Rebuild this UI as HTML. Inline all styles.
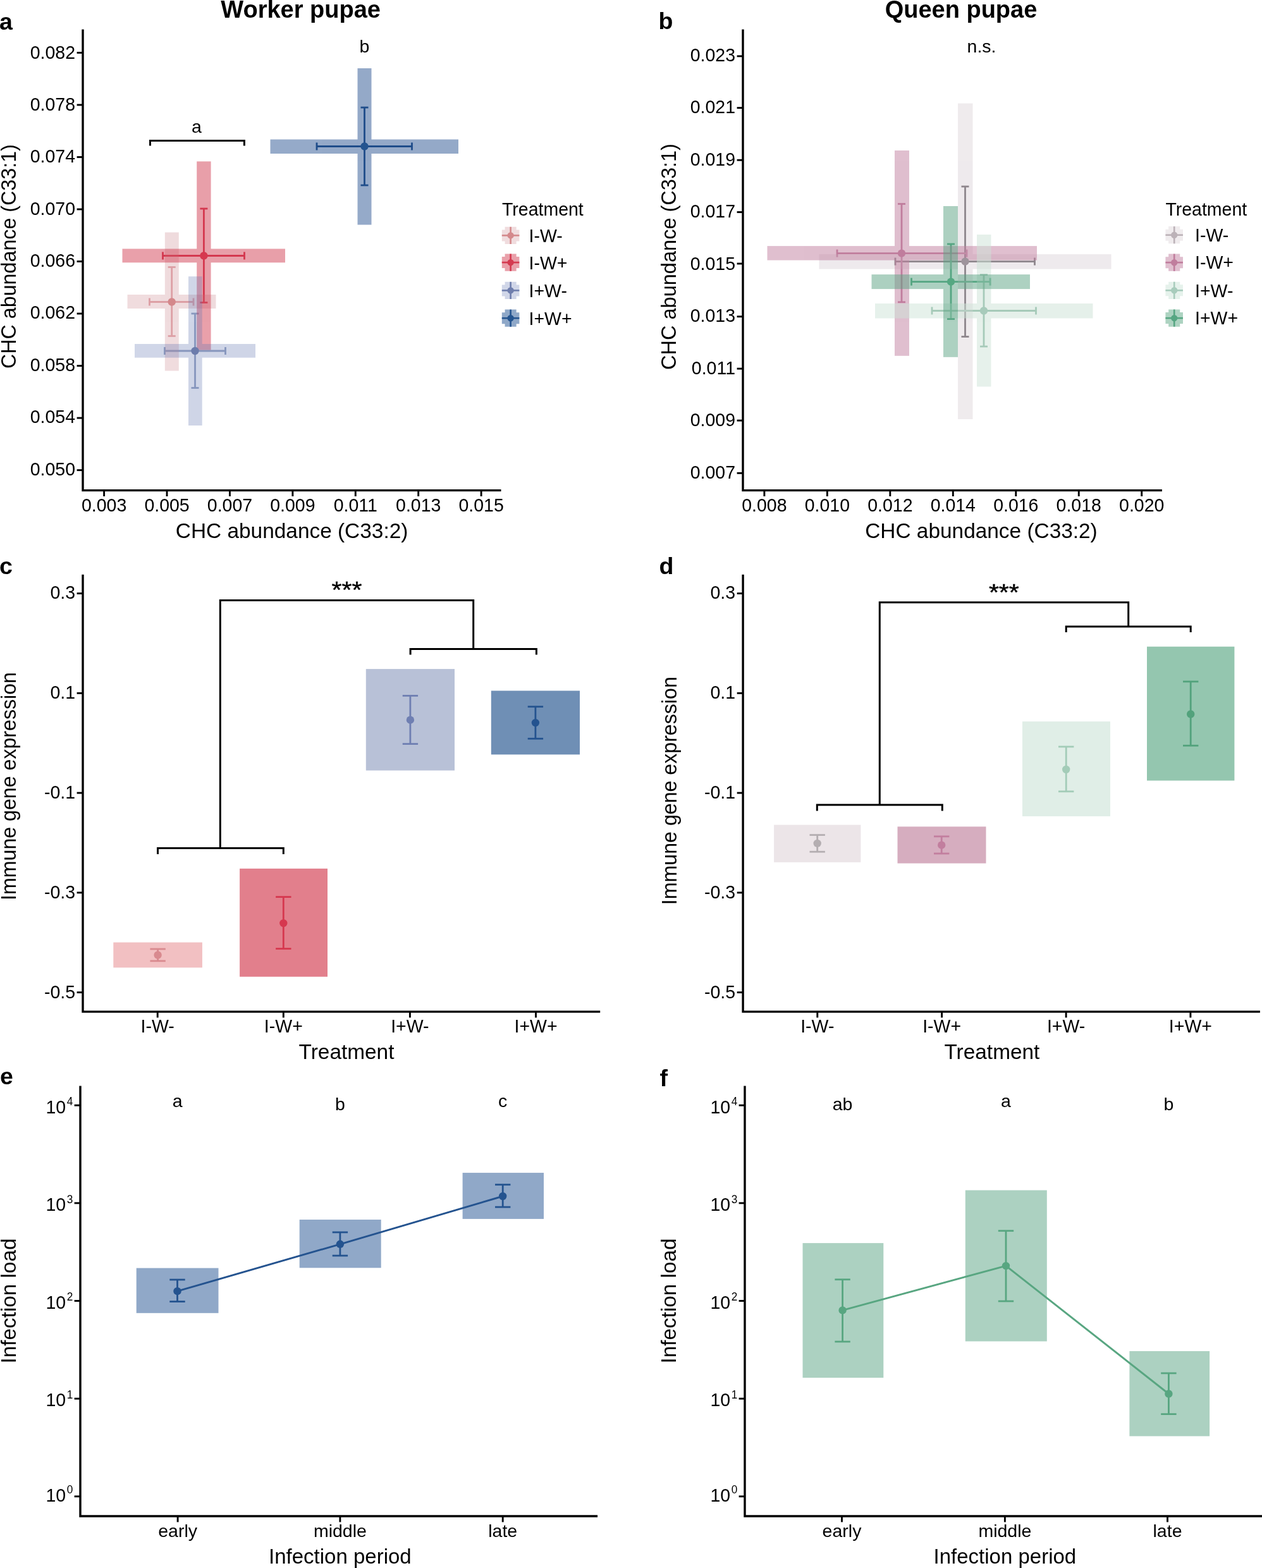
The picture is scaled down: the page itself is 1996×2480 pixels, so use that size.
<!DOCTYPE html>
<html><head><meta charset="utf-8"><title>Figure</title>
<style>
html,body{margin:0;padding:0;background:#fff;}
body{width:1996px;height:2480px;overflow:hidden;}
svg{display:block;font-family:"Liberation Sans", Arial, Helvetica, sans-serif;}
</style></head><body>
<svg width="1996" height="2480" viewBox="0 0 1996 2480">
<rect width="1996" height="2480" fill="#fff"/>
<text transform="translate(-1.10 46.50)" font-size="37.5" font-weight="bold">a</text>
<text transform="translate(475.60 28.20)" font-size="38" text-anchor="middle" font-weight="bold">Worker pupae</text>
<path d="M131.00 46.50 V775.60 H792.50" fill="none" stroke="#000" stroke-width="3.4" stroke-linejoin="miter" stroke-linecap="butt"/>
<line x1="121.60" y1="743.60" x2="131.00" y2="743.60" stroke="#000" stroke-width="2.9" stroke-linecap="butt"/>
<text transform="translate(119.00 751.50) scale(1.0 1.04)" font-size="28.5" text-anchor="end">0.050</text>
<line x1="121.60" y1="661.08" x2="131.00" y2="661.08" stroke="#000" stroke-width="2.9" stroke-linecap="butt"/>
<text transform="translate(119.00 669.16) scale(1.0 1.04)" font-size="28.5" text-anchor="end">0.054</text>
<line x1="121.60" y1="578.55" x2="131.00" y2="578.55" stroke="#000" stroke-width="2.9" stroke-linecap="butt"/>
<text transform="translate(119.00 586.83) scale(1.0 1.04)" font-size="28.5" text-anchor="end">0.058</text>
<line x1="121.60" y1="496.02" x2="131.00" y2="496.02" stroke="#000" stroke-width="2.9" stroke-linecap="butt"/>
<text transform="translate(119.00 504.49) scale(1.0 1.04)" font-size="28.5" text-anchor="end">0.062</text>
<line x1="121.60" y1="413.50" x2="131.00" y2="413.50" stroke="#000" stroke-width="2.9" stroke-linecap="butt"/>
<text transform="translate(119.00 422.15) scale(1.0 1.04)" font-size="28.5" text-anchor="end">0.066</text>
<line x1="121.60" y1="330.98" x2="131.00" y2="330.98" stroke="#000" stroke-width="2.9" stroke-linecap="butt"/>
<text transform="translate(119.00 339.81) scale(1.0 1.04)" font-size="28.5" text-anchor="end">0.070</text>
<line x1="121.60" y1="248.45" x2="131.00" y2="248.45" stroke="#000" stroke-width="2.9" stroke-linecap="butt"/>
<text transform="translate(119.00 257.47) scale(1.0 1.04)" font-size="28.5" text-anchor="end">0.074</text>
<line x1="121.60" y1="165.92" x2="131.00" y2="165.92" stroke="#000" stroke-width="2.9" stroke-linecap="butt"/>
<text transform="translate(119.00 175.14) scale(1.0 1.04)" font-size="28.5" text-anchor="end">0.078</text>
<line x1="121.60" y1="83.40" x2="131.00" y2="83.40" stroke="#000" stroke-width="2.9" stroke-linecap="butt"/>
<text transform="translate(119.00 92.80) scale(1.0 1.04)" font-size="28.5" text-anchor="end">0.082</text>
<line x1="164.60" y1="775.60" x2="164.60" y2="785.00" stroke="#000" stroke-width="2.9" stroke-linecap="butt"/>
<text transform="translate(164.60 809.00) scale(1.0 1.04)" font-size="28.5" text-anchor="middle">0.003</text>
<line x1="264.02" y1="775.60" x2="264.02" y2="785.00" stroke="#000" stroke-width="2.9" stroke-linecap="butt"/>
<text transform="translate(264.02 809.00) scale(1.0 1.04)" font-size="28.5" text-anchor="middle">0.005</text>
<line x1="363.44" y1="775.60" x2="363.44" y2="785.00" stroke="#000" stroke-width="2.9" stroke-linecap="butt"/>
<text transform="translate(363.44 809.00) scale(1.0 1.04)" font-size="28.5" text-anchor="middle">0.007</text>
<line x1="462.86" y1="775.60" x2="462.86" y2="785.00" stroke="#000" stroke-width="2.9" stroke-linecap="butt"/>
<text transform="translate(462.86 809.00) scale(1.0 1.04)" font-size="28.5" text-anchor="middle">0.009</text>
<line x1="562.28" y1="775.60" x2="562.28" y2="785.00" stroke="#000" stroke-width="2.9" stroke-linecap="butt"/>
<text transform="translate(562.28 809.00) scale(1.0 1.04)" font-size="28.5" text-anchor="middle">0.011</text>
<line x1="661.70" y1="775.60" x2="661.70" y2="785.00" stroke="#000" stroke-width="2.9" stroke-linecap="butt"/>
<text transform="translate(661.70 809.00) scale(1.0 1.04)" font-size="28.5" text-anchor="middle">0.013</text>
<line x1="761.12" y1="775.60" x2="761.12" y2="785.00" stroke="#000" stroke-width="2.9" stroke-linecap="butt"/>
<text transform="translate(761.12 809.00) scale(1.0 1.04)" font-size="28.5" text-anchor="middle">0.015</text>
<text transform="translate(461.60 850.80)" font-size="33.4" text-anchor="middle">CHC abundance (C33:2)</text>
<text transform="translate(24.80 405.60) rotate(-90) scale(0.966 1.02)" font-size="33.4" text-anchor="middle">CHC abundance (C33:1)</text>
<line x1="236.50" y1="477.50" x2="306.00" y2="477.50" stroke="#E4A9AE" stroke-width="2.8" stroke-linecap="butt"/>
<line x1="236.50" y1="471.50" x2="236.50" y2="483.50" stroke="#E4A9AE" stroke-width="2.8" stroke-linecap="butt"/>
<line x1="306.00" y1="471.50" x2="306.00" y2="483.50" stroke="#E4A9AE" stroke-width="2.8" stroke-linecap="butt"/>
<line x1="271.70" y1="422.50" x2="271.70" y2="531.50" stroke="#E4A9AE" stroke-width="2.8" stroke-linecap="butt"/>
<line x1="265.70" y1="422.50" x2="277.70" y2="422.50" stroke="#E4A9AE" stroke-width="2.8" stroke-linecap="butt"/>
<line x1="265.70" y1="531.50" x2="277.70" y2="531.50" stroke="#E4A9AE" stroke-width="2.8" stroke-linecap="butt"/>
<line x1="257.50" y1="404.50" x2="386.50" y2="404.50" stroke="#D72F49" stroke-width="2.8" stroke-linecap="butt"/>
<line x1="257.50" y1="398.50" x2="257.50" y2="410.50" stroke="#D72F49" stroke-width="2.8" stroke-linecap="butt"/>
<line x1="386.50" y1="398.50" x2="386.50" y2="410.50" stroke="#D72F49" stroke-width="2.8" stroke-linecap="butt"/>
<line x1="322.40" y1="330.00" x2="322.40" y2="478.50" stroke="#D72F49" stroke-width="2.8" stroke-linecap="butt"/>
<line x1="316.40" y1="330.00" x2="328.40" y2="330.00" stroke="#D72F49" stroke-width="2.8" stroke-linecap="butt"/>
<line x1="316.40" y1="478.50" x2="328.40" y2="478.50" stroke="#D72F49" stroke-width="2.8" stroke-linecap="butt"/>
<line x1="260.50" y1="555.00" x2="356.50" y2="555.00" stroke="#97A5C3" stroke-width="2.8" stroke-linecap="butt"/>
<line x1="260.50" y1="549.00" x2="260.50" y2="561.00" stroke="#97A5C3" stroke-width="2.8" stroke-linecap="butt"/>
<line x1="356.50" y1="549.00" x2="356.50" y2="561.00" stroke="#97A5C3" stroke-width="2.8" stroke-linecap="butt"/>
<line x1="308.50" y1="496.00" x2="308.50" y2="613.50" stroke="#97A5C3" stroke-width="2.8" stroke-linecap="butt"/>
<line x1="302.50" y1="496.00" x2="314.50" y2="496.00" stroke="#97A5C3" stroke-width="2.8" stroke-linecap="butt"/>
<line x1="302.50" y1="613.50" x2="314.50" y2="613.50" stroke="#97A5C3" stroke-width="2.8" stroke-linecap="butt"/>
<line x1="501.00" y1="231.50" x2="651.50" y2="231.50" stroke="#134581" stroke-width="2.8" stroke-linecap="butt"/>
<line x1="501.00" y1="225.50" x2="501.00" y2="237.50" stroke="#134581" stroke-width="2.8" stroke-linecap="butt"/>
<line x1="651.50" y1="225.50" x2="651.50" y2="237.50" stroke="#134581" stroke-width="2.8" stroke-linecap="butt"/>
<line x1="576.50" y1="170.00" x2="576.50" y2="293.00" stroke="#134581" stroke-width="2.8" stroke-linecap="butt"/>
<line x1="570.50" y1="170.00" x2="582.50" y2="170.00" stroke="#134581" stroke-width="2.8" stroke-linecap="butt"/>
<line x1="570.50" y1="293.00" x2="582.50" y2="293.00" stroke="#134581" stroke-width="2.8" stroke-linecap="butt"/>
<g fill="#CD8A91" opacity="0.3">
<rect x="201.50" y="466.00" width="140.00" height="22.00" fill="#CD8A91"/>
<rect x="260.80" y="367.50" width="22.00" height="219.00" fill="#CD8A91"/>
</g>
<g fill="#D34155" opacity="0.5">
<rect x="193.50" y="393.50" width="257.50" height="21.80" fill="#D34155"/>
<rect x="311.20" y="255.30" width="22.40" height="298.20" fill="#D34155"/>
</g>
<g fill="#6276B2" opacity="0.3">
<rect x="213.00" y="544.00" width="191.00" height="21.70" fill="#6276B2"/>
<rect x="298.00" y="437.20" width="21.70" height="235.80" fill="#6276B2"/>
</g>
<g fill="#2B5593" opacity="0.5">
<rect x="427.50" y="220.50" width="297.50" height="22.50" fill="#2B5593"/>
<rect x="565.50" y="108.00" width="22.00" height="247.50" fill="#2B5593"/>
</g>
<circle cx="271.70" cy="477.50" r="6.2" fill="#D4888B"/>
<circle cx="322.40" cy="404.50" r="6.2" fill="#D6384F"/>
<circle cx="308.50" cy="555.00" r="6.2" fill="#6C7CAC"/>
<circle cx="576.50" cy="231.50" r="6.2" fill="#24548F"/>
<path d="M237.50 230.40 V222.50 H386.40 V230.40" fill="none" stroke="#000" stroke-width="3.0"/>
<text transform="translate(311.00 210.00)" font-size="28.5" text-anchor="middle">a</text>
<text transform="translate(576.50 82.50)" font-size="28.5" text-anchor="middle">b</text>
<text transform="translate(794.00 340.90) scale(1.0 1.02)" font-size="28.5">Treatment</text>
<path d="M793.80 363.40 H798.55 V358.80 H816.65 V363.40 H821.40 V381.40 H816.65 V386.00 H798.55 V381.40 H793.80 Z" fill="#F0DCDE"/>
<line x1="793.80" y1="372.40" x2="821.40" y2="372.40" stroke="#D4898C" stroke-width="2.6" stroke-linecap="butt"/>
<line x1="807.60" y1="358.80" x2="807.60" y2="386.00" stroke="#D4898C" stroke-width="2.6" stroke-linecap="butt"/>
<circle cx="807.60" cy="372.40" r="5.2" fill="#D4898C"/>
<text transform="translate(836.50 382.80) scale(1.0 1.04)" font-size="28.5">I-W-</text>
<path d="M793.80 406.10 H798.55 V401.50 H816.65 V406.10 H821.40 V424.10 H816.65 V428.70 H798.55 V424.10 H793.80 Z" fill="#E9A0AA"/>
<line x1="793.80" y1="415.10" x2="821.40" y2="415.10" stroke="#D43A50" stroke-width="2.6" stroke-linecap="butt"/>
<line x1="807.60" y1="401.50" x2="807.60" y2="428.70" stroke="#D43A50" stroke-width="2.6" stroke-linecap="butt"/>
<circle cx="807.60" cy="415.10" r="5.2" fill="#D43A50"/>
<text transform="translate(836.50 425.90) scale(1.0 1.04)" font-size="28.5">I-W+</text>
<path d="M793.80 450.40 H798.55 V445.80 H816.65 V450.40 H821.40 V468.40 H816.65 V473.00 H798.55 V468.40 H793.80 Z" fill="#D0D6E8"/>
<line x1="793.80" y1="459.40" x2="821.40" y2="459.40" stroke="#6F7EAD" stroke-width="2.6" stroke-linecap="butt"/>
<line x1="807.60" y1="445.80" x2="807.60" y2="473.00" stroke="#6F7EAD" stroke-width="2.6" stroke-linecap="butt"/>
<circle cx="807.60" cy="459.40" r="5.2" fill="#6F7EAD"/>
<text transform="translate(836.50 469.80) scale(1.0 1.04)" font-size="28.5">I+W-</text>
<path d="M793.80 494.20 H798.55 V489.60 H816.65 V494.20 H821.40 V512.20 H816.65 V516.80 H798.55 V512.20 H793.80 Z" fill="#8FA8C8"/>
<line x1="793.80" y1="503.20" x2="821.40" y2="503.20" stroke="#24548F" stroke-width="2.6" stroke-linecap="butt"/>
<line x1="807.60" y1="489.60" x2="807.60" y2="516.80" stroke="#24548F" stroke-width="2.6" stroke-linecap="butt"/>
<circle cx="807.60" cy="503.20" r="5.2" fill="#24548F"/>
<text transform="translate(836.50 513.80) scale(1.0 1.04)" font-size="28.5">I+W+</text>
<text transform="translate(1041.50 45.80)" font-size="37.5" font-weight="bold">b</text>
<text transform="translate(1520.00 28.20)" font-size="38" text-anchor="middle" font-weight="bold">Queen pupae</text>
<path d="M1175.00 46.50 V775.60 H1837.90" fill="none" stroke="#000" stroke-width="3.4" stroke-linejoin="miter" stroke-linecap="butt"/>
<line x1="1165.60" y1="748.30" x2="1175.00" y2="748.30" stroke="#000" stroke-width="2.9" stroke-linecap="butt"/>
<text transform="translate(1163.00 756.60) scale(1.0 1.04)" font-size="28.5" text-anchor="end">0.007</text>
<line x1="1165.60" y1="665.10" x2="1175.00" y2="665.10" stroke="#000" stroke-width="2.9" stroke-linecap="butt"/>
<text transform="translate(1163.00 674.11) scale(1.0 1.04)" font-size="28.5" text-anchor="end">0.009</text>
<line x1="1165.60" y1="583.10" x2="1175.00" y2="583.10" stroke="#000" stroke-width="2.9" stroke-linecap="butt"/>
<text transform="translate(1163.00 591.62) scale(1.0 1.04)" font-size="28.5" text-anchor="end">0.011</text>
<line x1="1165.60" y1="500.70" x2="1175.00" y2="500.70" stroke="#000" stroke-width="2.9" stroke-linecap="butt"/>
<text transform="translate(1163.00 509.13) scale(1.0 1.04)" font-size="28.5" text-anchor="end">0.013</text>
<line x1="1165.60" y1="417.00" x2="1175.00" y2="417.00" stroke="#000" stroke-width="2.9" stroke-linecap="butt"/>
<text transform="translate(1163.00 426.63) scale(1.0 1.04)" font-size="28.5" text-anchor="end">0.015</text>
<line x1="1165.60" y1="335.50" x2="1175.00" y2="335.50" stroke="#000" stroke-width="2.9" stroke-linecap="butt"/>
<text transform="translate(1163.00 344.14) scale(1.0 1.04)" font-size="28.5" text-anchor="end">0.017</text>
<line x1="1165.60" y1="253.20" x2="1175.00" y2="253.20" stroke="#000" stroke-width="2.9" stroke-linecap="butt"/>
<text transform="translate(1163.00 261.65) scale(1.0 1.04)" font-size="28.5" text-anchor="end">0.019</text>
<line x1="1165.60" y1="170.60" x2="1175.00" y2="170.60" stroke="#000" stroke-width="2.9" stroke-linecap="butt"/>
<text transform="translate(1163.00 179.16) scale(1.0 1.04)" font-size="28.5" text-anchor="end">0.021</text>
<line x1="1165.60" y1="88.85" x2="1175.00" y2="88.85" stroke="#000" stroke-width="2.9" stroke-linecap="butt"/>
<text transform="translate(1163.00 96.67) scale(1.0 1.04)" font-size="28.5" text-anchor="end">0.023</text>
<line x1="1208.90" y1="775.60" x2="1208.90" y2="785.00" stroke="#000" stroke-width="2.9" stroke-linecap="butt"/>
<text transform="translate(1208.90 809.00) scale(1.0 1.04)" font-size="28.5" text-anchor="middle">0.008</text>
<line x1="1308.37" y1="775.60" x2="1308.37" y2="785.00" stroke="#000" stroke-width="2.9" stroke-linecap="butt"/>
<text transform="translate(1308.37 809.00) scale(1.0 1.04)" font-size="28.5" text-anchor="middle">0.010</text>
<line x1="1407.84" y1="775.60" x2="1407.84" y2="785.00" stroke="#000" stroke-width="2.9" stroke-linecap="butt"/>
<text transform="translate(1407.84 809.00) scale(1.0 1.04)" font-size="28.5" text-anchor="middle">0.012</text>
<line x1="1507.31" y1="775.60" x2="1507.31" y2="785.00" stroke="#000" stroke-width="2.9" stroke-linecap="butt"/>
<text transform="translate(1507.31 809.00) scale(1.0 1.04)" font-size="28.5" text-anchor="middle">0.014</text>
<line x1="1606.78" y1="775.60" x2="1606.78" y2="785.00" stroke="#000" stroke-width="2.9" stroke-linecap="butt"/>
<text transform="translate(1606.78 809.00) scale(1.0 1.04)" font-size="28.5" text-anchor="middle">0.016</text>
<line x1="1706.25" y1="775.60" x2="1706.25" y2="785.00" stroke="#000" stroke-width="2.9" stroke-linecap="butt"/>
<text transform="translate(1706.25 809.00) scale(1.0 1.04)" font-size="28.5" text-anchor="middle">0.018</text>
<line x1="1805.72" y1="775.60" x2="1805.72" y2="785.00" stroke="#000" stroke-width="2.9" stroke-linecap="butt"/>
<text transform="translate(1805.72 809.00) scale(1.0 1.04)" font-size="28.5" text-anchor="middle">0.020</text>
<text transform="translate(1552.00 850.80)" font-size="33.4" text-anchor="middle">CHC abundance (C33:2)</text>
<text transform="translate(1068.80 406.00) rotate(-90) scale(0.974 1.02)" font-size="33.4" text-anchor="middle">CHC abundance (C33:1)</text>
<line x1="1416.00" y1="413.60" x2="1636.50" y2="413.60" stroke="#6A646A" stroke-width="2.8" stroke-linecap="butt"/>
<line x1="1416.00" y1="407.60" x2="1416.00" y2="419.60" stroke="#6A646A" stroke-width="2.8" stroke-linecap="butt"/>
<line x1="1636.50" y1="407.60" x2="1636.50" y2="419.60" stroke="#6A646A" stroke-width="2.8" stroke-linecap="butt"/>
<line x1="1526.50" y1="295.00" x2="1526.50" y2="532.50" stroke="#6A646A" stroke-width="2.8" stroke-linecap="butt"/>
<line x1="1520.50" y1="295.00" x2="1532.50" y2="295.00" stroke="#6A646A" stroke-width="2.8" stroke-linecap="butt"/>
<line x1="1520.50" y1="532.50" x2="1532.50" y2="532.50" stroke="#6A646A" stroke-width="2.8" stroke-linecap="butt"/>
<line x1="1324.00" y1="400.60" x2="1529.00" y2="400.60" stroke="#BF7B9B" stroke-width="2.8" stroke-linecap="butt"/>
<line x1="1324.00" y1="394.60" x2="1324.00" y2="406.60" stroke="#BF7B9B" stroke-width="2.8" stroke-linecap="butt"/>
<line x1="1529.00" y1="394.60" x2="1529.00" y2="406.60" stroke="#BF7B9B" stroke-width="2.8" stroke-linecap="butt"/>
<line x1="1426.00" y1="322.50" x2="1426.00" y2="477.80" stroke="#BF7B9B" stroke-width="2.8" stroke-linecap="butt"/>
<line x1="1420.00" y1="322.50" x2="1432.00" y2="322.50" stroke="#BF7B9B" stroke-width="2.8" stroke-linecap="butt"/>
<line x1="1420.00" y1="477.80" x2="1432.00" y2="477.80" stroke="#BF7B9B" stroke-width="2.8" stroke-linecap="butt"/>
<line x1="1474.00" y1="491.50" x2="1638.50" y2="491.50" stroke="#7FB19B" stroke-width="2.8" stroke-linecap="butt"/>
<line x1="1474.00" y1="485.50" x2="1474.00" y2="497.50" stroke="#7FB19B" stroke-width="2.8" stroke-linecap="butt"/>
<line x1="1638.50" y1="485.50" x2="1638.50" y2="497.50" stroke="#7FB19B" stroke-width="2.8" stroke-linecap="butt"/>
<line x1="1556.00" y1="434.50" x2="1556.00" y2="548.00" stroke="#7FB19B" stroke-width="2.8" stroke-linecap="butt"/>
<line x1="1550.00" y1="434.50" x2="1562.00" y2="434.50" stroke="#7FB19B" stroke-width="2.8" stroke-linecap="butt"/>
<line x1="1550.00" y1="548.00" x2="1562.00" y2="548.00" stroke="#7FB19B" stroke-width="2.8" stroke-linecap="butt"/>
<line x1="1441.50" y1="445.60" x2="1566.00" y2="445.60" stroke="#4FA981" stroke-width="2.8" stroke-linecap="butt"/>
<line x1="1441.50" y1="439.60" x2="1441.50" y2="451.60" stroke="#4FA981" stroke-width="2.8" stroke-linecap="butt"/>
<line x1="1566.00" y1="439.60" x2="1566.00" y2="451.60" stroke="#4FA981" stroke-width="2.8" stroke-linecap="butt"/>
<line x1="1504.00" y1="386.00" x2="1504.00" y2="504.50" stroke="#4FA981" stroke-width="2.8" stroke-linecap="butt"/>
<line x1="1498.00" y1="386.00" x2="1510.00" y2="386.00" stroke="#4FA981" stroke-width="2.8" stroke-linecap="butt"/>
<line x1="1498.00" y1="504.50" x2="1510.00" y2="504.50" stroke="#4FA981" stroke-width="2.8" stroke-linecap="butt"/>
<g fill="#D1C6CC" opacity="0.35">
<rect x="1295.50" y="402.10" width="462.00" height="23.50" fill="#D1C6CC"/>
<rect x="1515.00" y="163.50" width="23.50" height="499.50" fill="#D1C6CC"/>
</g>
<g fill="#C17F9F" opacity="0.5">
<rect x="1213.50" y="389.10" width="426.50" height="22.50" fill="#C17F9F"/>
<rect x="1415.00" y="238.00" width="23.00" height="324.80" fill="#C17F9F"/>
</g>
<g fill="#CDE3D7" opacity="0.5">
<rect x="1384.00" y="480.00" width="344.50" height="23.50" fill="#CDE3D7"/>
<rect x="1545.00" y="371.00" width="22.50" height="240.50" fill="#CDE3D7"/>
</g>
<g fill="#5BA383" opacity="0.5">
<rect x="1378.50" y="434.10" width="250.50" height="23.00" fill="#5BA383"/>
<rect x="1492.00" y="326.00" width="23.00" height="238.80" fill="#5BA383"/>
</g>
<circle cx="1526.50" cy="413.60" r="6.2" fill="#9E949C"/>
<circle cx="1426.00" cy="400.60" r="6.2" fill="#C07D9D"/>
<circle cx="1556.00" cy="491.50" r="6.2" fill="#A8CBBB"/>
<circle cx="1504.00" cy="445.60" r="6.2" fill="#55A882"/>
<text transform="translate(1552.50 82.50)" font-size="28.5" text-anchor="middle">n.s.</text>
<text transform="translate(1843.40 340.70) scale(1.0 1.02)" font-size="28.5">Treatment</text>
<path d="M1843.40 362.70 H1848.15 V358.10 H1866.25 V362.70 H1871.00 V380.70 H1866.25 V385.30 H1848.15 V380.70 H1843.40 Z" fill="#F0ECEE"/>
<line x1="1843.40" y1="371.70" x2="1871.00" y2="371.70" stroke="#BCB2B8" stroke-width="2.6" stroke-linecap="butt"/>
<line x1="1857.20" y1="358.10" x2="1857.20" y2="385.30" stroke="#BCB2B8" stroke-width="2.6" stroke-linecap="butt"/>
<circle cx="1857.20" cy="371.70" r="5.2" fill="#BCB2B8"/>
<text transform="translate(1890.00 381.90) scale(1.0 1.04)" font-size="28.5">I-W-</text>
<path d="M1843.40 406.20 H1848.15 V401.60 H1866.25 V406.20 H1871.00 V424.20 H1866.25 V428.80 H1848.15 V424.20 H1843.40 Z" fill="#E0BFCF"/>
<line x1="1843.40" y1="415.20" x2="1871.00" y2="415.20" stroke="#C07D9D" stroke-width="2.6" stroke-linecap="butt"/>
<line x1="1857.20" y1="401.60" x2="1857.20" y2="428.80" stroke="#C07D9D" stroke-width="2.6" stroke-linecap="butt"/>
<circle cx="1857.20" cy="415.20" r="5.2" fill="#C07D9D"/>
<text transform="translate(1890.00 425.40) scale(1.0 1.04)" font-size="28.5">I-W+</text>
<path d="M1843.40 450.30 H1848.15 V445.70 H1866.25 V450.30 H1871.00 V468.30 H1866.25 V472.90 H1848.15 V468.30 H1843.40 Z" fill="#E6F2EC"/>
<line x1="1843.40" y1="459.30" x2="1871.00" y2="459.30" stroke="#A8CCBC" stroke-width="2.6" stroke-linecap="butt"/>
<line x1="1857.20" y1="445.70" x2="1857.20" y2="472.90" stroke="#A8CCBC" stroke-width="2.6" stroke-linecap="butt"/>
<circle cx="1857.20" cy="459.30" r="5.2" fill="#A8CCBC"/>
<text transform="translate(1890.00 469.50) scale(1.0 1.04)" font-size="28.5">I+W-</text>
<path d="M1843.40 494.10 H1848.15 V489.50 H1866.25 V494.10 H1871.00 V512.10 H1866.25 V516.70 H1848.15 V512.10 H1843.40 Z" fill="#ADD3C1"/>
<line x1="1843.40" y1="503.10" x2="1871.00" y2="503.10" stroke="#56A682" stroke-width="2.6" stroke-linecap="butt"/>
<line x1="1857.20" y1="489.50" x2="1857.20" y2="516.70" stroke="#56A682" stroke-width="2.6" stroke-linecap="butt"/>
<circle cx="1857.20" cy="503.10" r="5.2" fill="#56A682"/>
<text transform="translate(1890.00 513.30) scale(1.0 1.04)" font-size="28.5">I+W+</text>
<text transform="translate(-1.00 907.90)" font-size="37.5" font-weight="bold">c</text>
<path d="M131.00 908.70 V1600.10 H949.20" fill="none" stroke="#000" stroke-width="3.4" stroke-linejoin="miter" stroke-linecap="butt"/>
<line x1="121.60" y1="938.60" x2="131.00" y2="938.60" stroke="#000" stroke-width="2.9" stroke-linecap="butt"/>
<text transform="translate(119.00 946.70) scale(1.0 1.04)" font-size="28.5" text-anchor="end">0.3</text>
<line x1="121.60" y1="1096.35" x2="131.00" y2="1096.35" stroke="#000" stroke-width="2.9" stroke-linecap="butt"/>
<text transform="translate(119.00 1104.71) scale(1.0 1.04)" font-size="28.5" text-anchor="end">0.1</text>
<line x1="121.60" y1="1254.10" x2="131.00" y2="1254.10" stroke="#000" stroke-width="2.9" stroke-linecap="butt"/>
<text transform="translate(119.00 1262.73) scale(1.0 1.04)" font-size="28.5" text-anchor="end">-0.1</text>
<line x1="121.60" y1="1411.85" x2="131.00" y2="1411.85" stroke="#000" stroke-width="2.9" stroke-linecap="butt"/>
<text transform="translate(119.00 1420.74) scale(1.0 1.04)" font-size="28.5" text-anchor="end">-0.3</text>
<line x1="121.60" y1="1569.60" x2="131.00" y2="1569.60" stroke="#000" stroke-width="2.9" stroke-linecap="butt"/>
<text transform="translate(119.00 1578.75) scale(1.0 1.04)" font-size="28.5" text-anchor="end">-0.5</text>
<line x1="249.20" y1="1600.10" x2="249.20" y2="1609.50" stroke="#000" stroke-width="2.9" stroke-linecap="butt"/>
<text transform="translate(249.20 1632.60) scale(1.0 1.04)" font-size="28.5" text-anchor="middle">I-W-</text>
<line x1="448.30" y1="1600.10" x2="448.30" y2="1609.50" stroke="#000" stroke-width="2.9" stroke-linecap="butt"/>
<text transform="translate(448.30 1632.60) scale(1.0 1.04)" font-size="28.5" text-anchor="middle">I-W+</text>
<line x1="648.40" y1="1600.10" x2="648.40" y2="1609.50" stroke="#000" stroke-width="2.9" stroke-linecap="butt"/>
<text transform="translate(648.40 1632.60) scale(1.0 1.04)" font-size="28.5" text-anchor="middle">I+W-</text>
<line x1="847.50" y1="1600.10" x2="847.50" y2="1609.50" stroke="#000" stroke-width="2.9" stroke-linecap="butt"/>
<text transform="translate(847.50 1632.60) scale(1.0 1.04)" font-size="28.5" text-anchor="middle">I+W+</text>
<text transform="translate(548.00 1674.80)" font-size="33.4" text-anchor="middle">Treatment</text>
<text transform="translate(24.50 1243.50) rotate(-90) scale(0.963 1.0)" font-size="33.4" text-anchor="middle">Immune gene expression</text>
<rect x="179.30" y="1490.50" width="140.60" height="39.90" fill="#F2C0C2"/>
<rect x="379.10" y="1373.80" width="138.90" height="171.00" fill="#E27F8C"/>
<rect x="578.80" y="1058.10" width="140.20" height="160.50" fill="#B8C1D7"/>
<rect x="776.80" y="1092.50" width="140.20" height="100.90" fill="#6F8FB5"/>
<line x1="249.60" y1="1501.00" x2="249.60" y2="1519.90" stroke="#D98A8F" stroke-width="2.8" stroke-linecap="butt"/>
<line x1="237.40" y1="1501.00" x2="261.80" y2="1501.00" stroke="#D98A8F" stroke-width="2.8" stroke-linecap="butt"/>
<line x1="237.40" y1="1519.90" x2="261.80" y2="1519.90" stroke="#D98A8F" stroke-width="2.8" stroke-linecap="butt"/>
<circle cx="249.60" cy="1510.50" r="6.2" fill="#D98A8F"/>
<line x1="448.30" y1="1418.60" x2="448.30" y2="1500.50" stroke="#D6384F" stroke-width="2.8" stroke-linecap="butt"/>
<line x1="436.10" y1="1418.60" x2="460.50" y2="1418.60" stroke="#D6384F" stroke-width="2.8" stroke-linecap="butt"/>
<line x1="436.10" y1="1500.50" x2="460.50" y2="1500.50" stroke="#D6384F" stroke-width="2.8" stroke-linecap="butt"/>
<circle cx="448.30" cy="1460.10" r="6.2" fill="#D6384F"/>
<line x1="648.90" y1="1100.40" x2="648.90" y2="1176.60" stroke="#6F7FB2" stroke-width="2.8" stroke-linecap="butt"/>
<line x1="636.70" y1="1100.40" x2="661.10" y2="1100.40" stroke="#6F7FB2" stroke-width="2.8" stroke-linecap="butt"/>
<line x1="636.70" y1="1176.60" x2="661.10" y2="1176.60" stroke="#6F7FB2" stroke-width="2.8" stroke-linecap="butt"/>
<circle cx="648.90" cy="1138.70" r="6.2" fill="#6F7FB2"/>
<line x1="846.90" y1="1117.70" x2="846.90" y2="1168.30" stroke="#24538F" stroke-width="2.8" stroke-linecap="butt"/>
<line x1="834.70" y1="1117.70" x2="859.10" y2="1117.70" stroke="#24538F" stroke-width="2.8" stroke-linecap="butt"/>
<line x1="834.70" y1="1168.30" x2="859.10" y2="1168.30" stroke="#24538F" stroke-width="2.8" stroke-linecap="butt"/>
<circle cx="846.90" cy="1143.10" r="6.2" fill="#24538F"/>
<path d="M348.30 1341.50 V949.60 H748.70 V1026.40" fill="none" stroke="#000" stroke-width="3.0" stroke-linejoin="miter"/>
<path d="M249.50 1350.90 V1341.50 H448.30 V1350.90" fill="none" stroke="#000" stroke-width="3.0"/>
<path d="M649.10 1035.40 V1026.40 H848.40 V1035.40" fill="none" stroke="#000" stroke-width="3.0"/>
<text transform="translate(548.50 945.50) scale(1 0.92)" font-size="41" text-anchor="middle" stroke="#000" stroke-width="0.5">***</text>
<text transform="translate(1042.60 907.90)" font-size="37.5" font-weight="bold">d</text>
<path d="M1175.10 908.70 V1600.10 H1992.90" fill="none" stroke="#000" stroke-width="3.4" stroke-linejoin="miter" stroke-linecap="butt"/>
<line x1="1165.70" y1="938.60" x2="1175.10" y2="938.60" stroke="#000" stroke-width="2.9" stroke-linecap="butt"/>
<text transform="translate(1163.10 946.70) scale(1.0 1.04)" font-size="28.5" text-anchor="end">0.3</text>
<line x1="1165.70" y1="1096.35" x2="1175.10" y2="1096.35" stroke="#000" stroke-width="2.9" stroke-linecap="butt"/>
<text transform="translate(1163.10 1104.71) scale(1.0 1.04)" font-size="28.5" text-anchor="end">0.1</text>
<line x1="1165.70" y1="1254.10" x2="1175.10" y2="1254.10" stroke="#000" stroke-width="2.9" stroke-linecap="butt"/>
<text transform="translate(1163.10 1262.73) scale(1.0 1.04)" font-size="28.5" text-anchor="end">-0.1</text>
<line x1="1165.70" y1="1411.85" x2="1175.10" y2="1411.85" stroke="#000" stroke-width="2.9" stroke-linecap="butt"/>
<text transform="translate(1163.10 1420.74) scale(1.0 1.04)" font-size="28.5" text-anchor="end">-0.3</text>
<line x1="1165.70" y1="1569.60" x2="1175.10" y2="1569.60" stroke="#000" stroke-width="2.9" stroke-linecap="butt"/>
<text transform="translate(1163.10 1578.75) scale(1.0 1.04)" font-size="28.5" text-anchor="end">-0.5</text>
<line x1="1292.80" y1="1600.10" x2="1292.80" y2="1609.50" stroke="#000" stroke-width="2.9" stroke-linecap="butt"/>
<text transform="translate(1292.80 1632.60) scale(1.0 1.04)" font-size="28.5" text-anchor="middle">I-W-</text>
<line x1="1489.60" y1="1600.10" x2="1489.60" y2="1609.50" stroke="#000" stroke-width="2.9" stroke-linecap="butt"/>
<text transform="translate(1489.60 1632.60) scale(1.0 1.04)" font-size="28.5" text-anchor="middle">I-W+</text>
<line x1="1686.10" y1="1600.10" x2="1686.10" y2="1609.50" stroke="#000" stroke-width="2.9" stroke-linecap="butt"/>
<text transform="translate(1686.10 1632.60) scale(1.0 1.04)" font-size="28.5" text-anchor="middle">I+W-</text>
<line x1="1882.90" y1="1600.10" x2="1882.90" y2="1609.50" stroke="#000" stroke-width="2.9" stroke-linecap="butt"/>
<text transform="translate(1882.90 1632.60) scale(1.0 1.04)" font-size="28.5" text-anchor="middle">I+W+</text>
<text transform="translate(1568.90 1674.80)" font-size="33.4" text-anchor="middle">Treatment</text>
<text transform="translate(1069.50 1250.70) rotate(-90) scale(0.963 1.0)" font-size="33.4" text-anchor="middle">Immune gene expression</text>
<rect x="1224.10" y="1304.60" width="137.30" height="59.20" fill="#ECE5E8"/>
<rect x="1419.50" y="1307.40" width="140.00" height="58.10" fill="#D6ADBF"/>
<rect x="1617.00" y="1141.10" width="139.00" height="150.00" fill="#E0EEE7"/>
<rect x="1814.00" y="1022.70" width="138.40" height="211.90" fill="#94C6AF"/>
<line x1="1292.70" y1="1320.60" x2="1292.70" y2="1347.20" stroke="#B4AEB1" stroke-width="2.8" stroke-linecap="butt"/>
<line x1="1280.50" y1="1320.60" x2="1304.90" y2="1320.60" stroke="#B4AEB1" stroke-width="2.8" stroke-linecap="butt"/>
<line x1="1280.50" y1="1347.20" x2="1304.90" y2="1347.20" stroke="#B4AEB1" stroke-width="2.8" stroke-linecap="butt"/>
<circle cx="1292.70" cy="1333.90" r="6.2" fill="#B4AEB1"/>
<line x1="1489.20" y1="1322.90" x2="1489.20" y2="1350.00" stroke="#C27E9E" stroke-width="2.8" stroke-linecap="butt"/>
<line x1="1477.00" y1="1322.90" x2="1501.40" y2="1322.90" stroke="#C27E9E" stroke-width="2.8" stroke-linecap="butt"/>
<line x1="1477.00" y1="1350.00" x2="1501.40" y2="1350.00" stroke="#C27E9E" stroke-width="2.8" stroke-linecap="butt"/>
<circle cx="1489.20" cy="1336.70" r="6.2" fill="#C27E9E"/>
<line x1="1686.20" y1="1181.00" x2="1686.20" y2="1251.80" stroke="#A3CCB8" stroke-width="2.8" stroke-linecap="butt"/>
<line x1="1674.00" y1="1181.00" x2="1698.40" y2="1181.00" stroke="#A3CCB8" stroke-width="2.8" stroke-linecap="butt"/>
<line x1="1674.00" y1="1251.80" x2="1698.40" y2="1251.80" stroke="#A3CCB8" stroke-width="2.8" stroke-linecap="butt"/>
<circle cx="1686.20" cy="1217.00" r="6.2" fill="#A3CCB8"/>
<line x1="1883.20" y1="1078.00" x2="1883.20" y2="1179.30" stroke="#52A27C" stroke-width="2.8" stroke-linecap="butt"/>
<line x1="1871.00" y1="1078.00" x2="1895.40" y2="1078.00" stroke="#52A27C" stroke-width="2.8" stroke-linecap="butt"/>
<line x1="1871.00" y1="1179.30" x2="1895.40" y2="1179.30" stroke="#52A27C" stroke-width="2.8" stroke-linecap="butt"/>
<circle cx="1883.20" cy="1129.50" r="6.2" fill="#52A27C"/>
<path d="M1391.30 1272.90 V952.70 H1784.70 V991.00" fill="none" stroke="#000" stroke-width="3.0" stroke-linejoin="miter"/>
<path d="M1292.30 1282.50 V1272.90 H1490.30 V1282.50" fill="none" stroke="#000" stroke-width="3.0"/>
<path d="M1686.20 1000.00 V991.00 H1883.20 V1000.00" fill="none" stroke="#000" stroke-width="3.0"/>
<text transform="translate(1587.80 949.80) scale(1 0.92)" font-size="41" text-anchor="middle" stroke="#000" stroke-width="0.5">***</text>
<text transform="translate(0.00 1714.60)" font-size="37.5" font-weight="bold">e</text>
<path d="M127.00 1717.60 V2398.00 H945.10" fill="none" stroke="#000" stroke-width="3.4" stroke-linejoin="miter" stroke-linecap="butt"/>
<line x1="117.60" y1="1748.20" x2="127.00" y2="1748.20" stroke="#000" stroke-width="2.9" stroke-linecap="butt"/>
<text transform="translate(104.10 1760.50) scale(1.0 1.04)" font-size="28.5" text-anchor="end">10</text>
<text transform="translate(115.40 1748.10) scale(1.0 1.04)" font-size="17.2" text-anchor="end">4</text>
<line x1="117.60" y1="1902.85" x2="127.00" y2="1902.85" stroke="#000" stroke-width="2.9" stroke-linecap="butt"/>
<text transform="translate(104.10 1915.15) scale(1.0 1.04)" font-size="28.5" text-anchor="end">10</text>
<text transform="translate(115.40 1902.75) scale(1.0 1.04)" font-size="17.2" text-anchor="end">3</text>
<line x1="117.60" y1="2057.50" x2="127.00" y2="2057.50" stroke="#000" stroke-width="2.9" stroke-linecap="butt"/>
<text transform="translate(104.10 2069.80) scale(1.0 1.04)" font-size="28.5" text-anchor="end">10</text>
<text transform="translate(115.40 2057.40) scale(1.0 1.04)" font-size="17.2" text-anchor="end">2</text>
<line x1="117.60" y1="2212.15" x2="127.00" y2="2212.15" stroke="#000" stroke-width="2.9" stroke-linecap="butt"/>
<text transform="translate(104.10 2224.45) scale(1.0 1.04)" font-size="28.5" text-anchor="end">10</text>
<text transform="translate(115.40 2212.05) scale(1.0 1.04)" font-size="17.2" text-anchor="end">1</text>
<line x1="117.60" y1="2366.80" x2="127.00" y2="2366.80" stroke="#000" stroke-width="2.9" stroke-linecap="butt"/>
<text transform="translate(104.10 2374.80) scale(1.0 1.04)" font-size="28.5" text-anchor="end">10</text>
<text transform="translate(115.40 2362.40) scale(1.0 1.04)" font-size="17.2" text-anchor="end">0</text>
<line x1="281.10" y1="2398.00" x2="281.10" y2="2407.40" stroke="#000" stroke-width="2.9" stroke-linecap="butt"/>
<text transform="translate(281.10 2431.40)" font-size="28.5" text-anchor="middle">early</text>
<line x1="537.90" y1="2398.00" x2="537.90" y2="2407.40" stroke="#000" stroke-width="2.9" stroke-linecap="butt"/>
<text transform="translate(537.90 2431.40)" font-size="28.5" text-anchor="middle">middle</text>
<line x1="795.20" y1="2398.00" x2="795.20" y2="2407.40" stroke="#000" stroke-width="2.9" stroke-linecap="butt"/>
<text transform="translate(795.20 2431.40)" font-size="28.5" text-anchor="middle">late</text>
<text transform="translate(537.90 2472.80)" font-size="33.0" text-anchor="middle">Infection period</text>
<text transform="translate(24.80 2057.50) rotate(-90) scale(0.997 1.0)" font-size="33.4" text-anchor="middle">Infection load</text>
<rect x="215.70" y="2005.60" width="129.80" height="71.20" fill="#90A8C8"/>
<rect x="473.70" y="1929.00" width="129.00" height="76.30" fill="#90A8C8"/>
<rect x="731.60" y="1854.90" width="128.40" height="73.00" fill="#90A8C8"/>
<polyline points="280.50,2042.20 537.90,1967.80 795.20,1892.00" fill="none" stroke="#24538F" stroke-width="2.9"/>
<line x1="280.50" y1="2024.00" x2="280.50" y2="2058.60" stroke="#24538F" stroke-width="2.8" stroke-linecap="butt"/>
<line x1="268.30" y1="2024.00" x2="292.70" y2="2024.00" stroke="#24538F" stroke-width="2.8" stroke-linecap="butt"/>
<line x1="268.30" y1="2058.60" x2="292.70" y2="2058.60" stroke="#24538F" stroke-width="2.8" stroke-linecap="butt"/>
<circle cx="280.50" cy="2042.20" r="6.2" fill="#24538F"/>
<line x1="537.90" y1="1949.00" x2="537.90" y2="1986.00" stroke="#24538F" stroke-width="2.8" stroke-linecap="butt"/>
<line x1="525.70" y1="1949.00" x2="550.10" y2="1949.00" stroke="#24538F" stroke-width="2.8" stroke-linecap="butt"/>
<line x1="525.70" y1="1986.00" x2="550.10" y2="1986.00" stroke="#24538F" stroke-width="2.8" stroke-linecap="butt"/>
<circle cx="537.90" cy="1967.80" r="6.2" fill="#24538F"/>
<line x1="795.20" y1="1873.70" x2="795.20" y2="1909.10" stroke="#24538F" stroke-width="2.8" stroke-linecap="butt"/>
<line x1="783.00" y1="1873.70" x2="807.40" y2="1873.70" stroke="#24538F" stroke-width="2.8" stroke-linecap="butt"/>
<line x1="783.00" y1="1909.10" x2="807.40" y2="1909.10" stroke="#24538F" stroke-width="2.8" stroke-linecap="butt"/>
<circle cx="795.20" cy="1892.00" r="6.2" fill="#24538F"/>
<text transform="translate(280.60 1750.80)" font-size="28.5" text-anchor="middle">a</text>
<text transform="translate(537.90 1756.40)" font-size="28.5" text-anchor="middle">b</text>
<text transform="translate(795.20 1750.80)" font-size="28.5" text-anchor="middle">c</text>
<text transform="translate(1043.50 1717.60)" font-size="37.5" font-weight="bold">f</text>
<path d="M1178.00 1717.60 V2398.00 H1996.00" fill="none" stroke="#000" stroke-width="3.4" stroke-linejoin="miter" stroke-linecap="butt"/>
<line x1="1168.60" y1="1748.20" x2="1178.00" y2="1748.20" stroke="#000" stroke-width="2.9" stroke-linecap="butt"/>
<text transform="translate(1155.10 1760.50) scale(1.0 1.04)" font-size="28.5" text-anchor="end">10</text>
<text transform="translate(1166.40 1748.10) scale(1.0 1.04)" font-size="17.2" text-anchor="end">4</text>
<line x1="1168.60" y1="1902.85" x2="1178.00" y2="1902.85" stroke="#000" stroke-width="2.9" stroke-linecap="butt"/>
<text transform="translate(1155.10 1915.15) scale(1.0 1.04)" font-size="28.5" text-anchor="end">10</text>
<text transform="translate(1166.40 1902.75) scale(1.0 1.04)" font-size="17.2" text-anchor="end">3</text>
<line x1="1168.60" y1="2057.50" x2="1178.00" y2="2057.50" stroke="#000" stroke-width="2.9" stroke-linecap="butt"/>
<text transform="translate(1155.10 2069.80) scale(1.0 1.04)" font-size="28.5" text-anchor="end">10</text>
<text transform="translate(1166.40 2057.40) scale(1.0 1.04)" font-size="17.2" text-anchor="end">2</text>
<line x1="1168.60" y1="2212.15" x2="1178.00" y2="2212.15" stroke="#000" stroke-width="2.9" stroke-linecap="butt"/>
<text transform="translate(1155.10 2224.45) scale(1.0 1.04)" font-size="28.5" text-anchor="end">10</text>
<text transform="translate(1166.40 2212.05) scale(1.0 1.04)" font-size="17.2" text-anchor="end">1</text>
<line x1="1168.60" y1="2366.80" x2="1178.00" y2="2366.80" stroke="#000" stroke-width="2.9" stroke-linecap="butt"/>
<text transform="translate(1155.10 2374.80) scale(1.0 1.04)" font-size="28.5" text-anchor="end">10</text>
<text transform="translate(1166.40 2362.40) scale(1.0 1.04)" font-size="17.2" text-anchor="end">0</text>
<line x1="1331.50" y1="2398.00" x2="1331.50" y2="2407.40" stroke="#000" stroke-width="2.9" stroke-linecap="butt"/>
<text transform="translate(1331.50 2431.40)" font-size="28.5" text-anchor="middle">early</text>
<line x1="1589.40" y1="2398.00" x2="1589.40" y2="2407.40" stroke="#000" stroke-width="2.9" stroke-linecap="butt"/>
<text transform="translate(1589.40 2431.40)" font-size="28.5" text-anchor="middle">middle</text>
<line x1="1846.50" y1="2398.00" x2="1846.50" y2="2407.40" stroke="#000" stroke-width="2.9" stroke-linecap="butt"/>
<text transform="translate(1846.50 2431.40)" font-size="28.5" text-anchor="middle">late</text>
<text transform="translate(1589.40 2472.80)" font-size="33.0" text-anchor="middle">Infection period</text>
<text transform="translate(1068.80 2057.50) rotate(-90) scale(0.997 1.0)" font-size="33.4" text-anchor="middle">Infection load</text>
<rect x="1269.50" y="1966.10" width="127.80" height="213.00" fill="#ACD1C1"/>
<rect x="1526.80" y="1882.50" width="129.00" height="239.00" fill="#ACD1C1"/>
<rect x="1786.40" y="2137.00" width="126.70" height="134.50" fill="#ACD1C1"/>
<polyline points="1332.60,2072.40 1591.00,2002.10 1848.40,2204.50" fill="none" stroke="#58A681" stroke-width="2.9"/>
<line x1="1332.60" y1="2023.70" x2="1332.60" y2="2122.00" stroke="#58A681" stroke-width="2.8" stroke-linecap="butt"/>
<line x1="1320.40" y1="2023.70" x2="1344.80" y2="2023.70" stroke="#58A681" stroke-width="2.8" stroke-linecap="butt"/>
<line x1="1320.40" y1="2122.00" x2="1344.80" y2="2122.00" stroke="#58A681" stroke-width="2.8" stroke-linecap="butt"/>
<circle cx="1332.60" cy="2072.40" r="6.2" fill="#58A681"/>
<line x1="1591.00" y1="1946.70" x2="1591.00" y2="2058.00" stroke="#58A681" stroke-width="2.8" stroke-linecap="butt"/>
<line x1="1578.80" y1="1946.70" x2="1603.20" y2="1946.70" stroke="#58A681" stroke-width="2.8" stroke-linecap="butt"/>
<line x1="1578.80" y1="2058.00" x2="1603.20" y2="2058.00" stroke="#58A681" stroke-width="2.8" stroke-linecap="butt"/>
<circle cx="1591.00" cy="2002.10" r="6.2" fill="#58A681"/>
<line x1="1848.40" y1="2171.90" x2="1848.40" y2="2236.60" stroke="#58A681" stroke-width="2.8" stroke-linecap="butt"/>
<line x1="1836.20" y1="2171.90" x2="1860.60" y2="2171.90" stroke="#58A681" stroke-width="2.8" stroke-linecap="butt"/>
<line x1="1836.20" y1="2236.60" x2="1860.60" y2="2236.60" stroke="#58A681" stroke-width="2.8" stroke-linecap="butt"/>
<circle cx="1848.40" cy="2204.50" r="6.2" fill="#58A681"/>
<text transform="translate(1332.60 1756.40)" font-size="28.5" text-anchor="middle">ab</text>
<text transform="translate(1591.00 1750.80)" font-size="28.5" text-anchor="middle">a</text>
<text transform="translate(1848.40 1756.40)" font-size="28.5" text-anchor="middle">b</text>
</svg>
</body></html>
